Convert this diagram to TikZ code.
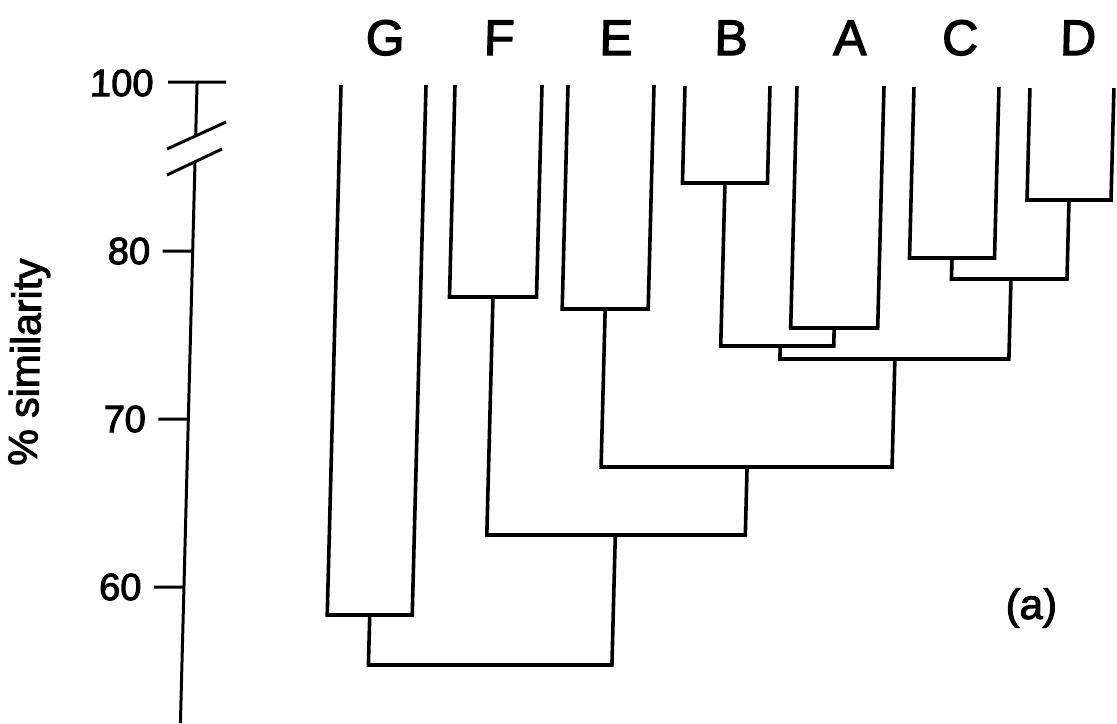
\documentclass[tikz,border=0pt]{standalone}
\usepackage{fontspec}
\setmainfont{Liberation Sans}
\newfontfamily\heavyface[FakeBold=2.5]{Liberation Sans}
\begin{document}
\begin{tikzpicture}[x=0.5pt,y=-0.5pt,
  line width=1.5pt, line cap=butt, line join=miter,
  leaflabel/.style={font=\heavyface\fontsize{25}{25}\selectfont, anchor=base, inner sep=0pt},
  ticklabel/.style={font=\heavyface\fontsize{19}{19}\selectfont, anchor=east, inner sep=0pt},
  axisline/.style={line width=1.5pt},
  branch/.style={line width=1.8pt}]
\useasboundingbox (0,0) rectangle (1117,723);

\begin{scope}[transform canvas={xshift=1.105pt, xslant=0.026}]

% ---------- similarity axis ----------
\coordinate (ax100) at (197,82);
\coordinate (axbrkA) at (197,136);
\coordinate (axbrkB) at (197,162);
\coordinate (axend) at (197,723);
\draw[axisline] (ax100) -- (axbrkA);
\draw[axisline] (axbrkB) -- (axend);
\draw[axisline] (168,82) -- (226,82);
\draw[axisline] (168.7,149) -- (227,122);
\draw[axisline] (169.3,175) -- (223.7,149);
\foreach \v/\py in {80/251,70/419,60/587}{
  \draw[axisline] (167,\py) -- (197,\py);
}
\node[ticklabel] (t100) at (155,83) {100};
\node[ticklabel] (t80) at (156,251) {80};
\node[ticklabel] (t70) at (156,419) {70};
\node[ticklabel] (t60) at (156,587) {60};
\node[font=\heavyface\fontsize{20.5}{20.5}\selectfont, rotate=90, inner sep=0pt] (ylab) at (36,362) {\% similarity};

% ---------- leaves ----------
\foreach \n/\l/\r/\t/\b/\lx in {G/341/426/85/615/384, F/455/542/85/297/498,
                          E/568/654/85/309/615, B/685/770/86/183/730,
                          A/797/884/86/328/849, C/914/999/87/258/959,
                          D/1030/1114/88/200/1077}{
  \draw[branch] (\l,\t) -- (\l,\b) -- (\r,\b) -- (\r,\t);
  \coordinate (\n) at ({(\l+\r)/2},\b);
  \node[leaflabel] (lab\n) at (\lx,55) {\n};
}

% ---------- clusters ----------
\newcommand\clade[5]{%
  \coordinate (#1) at (#4,#5);
  \draw[branch] (#2) -- (#2 |- #1) -- (#3 |- #1) -- (#3);
}
\clade{BA}{B}{A}{787}{346}
\clade{CD}{C}{D}{1016}{279}
\clade{BACD}{BA}{CD}{902}{359}
\clade{EBACD}{E}{BACD}{757}{467}
\clade{FEBACD}{F}{EBACD}{627}{535}
\clade{root}{G}{FEBACD}{505}{665}

\node[font=\heavyface\fontsize{21}{21}\selectfont, inner sep=0pt] (panel) at (1045,608) {(a)};
\end{scope}
\end{tikzpicture}
\end{document}
